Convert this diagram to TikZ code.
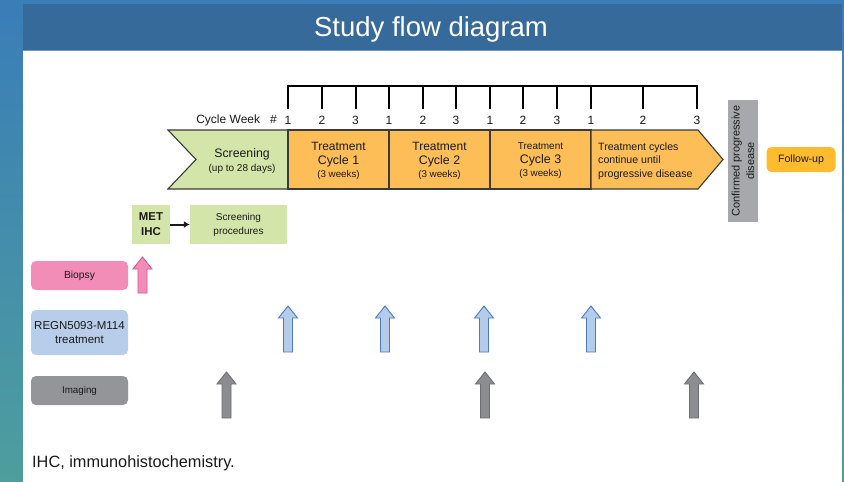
\documentclass[tikz,border=0pt]{standalone}
\usepackage{fontspec}
\setmainfont{Liberation Sans}
\usetikzlibrary{arrows.meta}
\definecolor{bgblue}{HTML}{3A7DB8}
\definecolor{bgteal}{HTML}{4E9E9E}
\definecolor{titlebar}{HTML}{366A9A}
\definecolor{scrgreen}{HTML}{D3E5A9}
\definecolor{trtorange}{HTML}{FDBE58}
\definecolor{fuorange}{HTML}{FDBB2D}
\definecolor{pdgray}{HTML}{A6A8AB}
\definecolor{pinkfill}{HTML}{F28DB8}
\definecolor{pinkline}{HTML}{D9558E}
\definecolor{bluebox}{HTML}{B7CDE9}
\definecolor{bluefill}{HTML}{B4CBEA}
\definecolor{blueline}{HTML}{4A7CC4}
\definecolor{imggray}{HTML}{939598}
\definecolor{arrgray}{HTML}{8C8D90}
\definecolor{arrgrayline}{HTML}{6D6E71}
\definecolor{outl}{HTML}{3A3A3A}
\definecolor{txt}{HTML}{1A1A1A}
\newcommand\fs[1]{\fontsize{#1pt}{\dimexpr #1pt*125/100\relax}\selectfont}
\newcommand\uparr[4]{%
  \draw[#4] (#1-4.5,#3) -- (#1-4.5,#2+12) -- (#1-9.5,#2+12) -- (#1,#2) --
    (#1+9.5,#2+12) -- (#1+4.5,#2+12) -- (#1+4.5,#3) -- cycle;}
\tikzset{
  lsk/.style={font=\fontsize{10pt}{#1}\selectfont},
  band/.style={draw=outl, line width=1.1pt, line join=miter},
  txtnode/.style={text=txt, inner sep=0pt, align=center, lsk=13.5pt},
  lab/.style={rounded corners=5pt, minimum width=97pt, inner sep=0pt, text=txt, align=center, lsk=14pt},
  tick/.style={line width=2pt, black},
  wk/.style={text=txt, inner sep=0pt, font=\fs{12}},
  bluearr/.style={fill=bluefill, draw=blueline, line width=0.9pt},
  grayarr/.style={fill=arrgray, draw=arrgrayline, line width=0.9pt},
  pinkarr/.style={fill=pinkfill, draw=pinkline, line width=0.9pt},
}
\begin{document}
\begin{tikzpicture}[x=1pt,y=-1pt]
\useasboundingbox (0,0) rectangle (844,482);
% background
\shade[top color=bgblue, bottom color=bgteal] (0,0) rectangle (844,482);
\fill[white] (23,50) rectangle (842,482);
\fill[titlebar] (23,4) rectangle (842,50);
\draw[color=titlebar!70!white, line width=0.8pt] (23,50) -- (842,50);
\node[text=white, inner sep=0pt] (title) at (431,29.5) {\fs{27.5}Study flow diagram};

% week ticks
\draw[tick] (288,109) -- (288,86) -- (697,86) -- (697,109);
\foreach \x in {322,355.5,389,423,456,490,523,557,591,643}
  \draw[tick] (\x,86) -- (\x,109);
\node[wk, anchor=east] (cw) at (277,120) {Cycle Week\ \ \ \#};
\foreach \x/\n [count=\i] in {288/1,322/2,355.5/3,389/1,423/2,456/3,490/1,523/2,557/3,591/1,643/2,697/3}
  \node[wk] (w\i) at (\x,120) {\n};

% band
\draw[band, fill=scrgreen] (168,130) -- (288,130) -- (288,189) -- (168,189) -- (196,159.5) -- cycle;
\draw[band, fill=trtorange] (288,130) rectangle (389,189);
\draw[band, fill=trtorange] (389,130) rectangle (490,189);
\draw[band, fill=trtorange] (490,130) rectangle (591,189);
\draw[band, fill=trtorange] (591,130) -- (698,130) -- (723,159.5) -- (698,189) -- (591,189) -- cycle;

\node[txtnode, lsk=14pt] (scr) at (242,161) {\fs{12.3}Screening\\\fs{10}(up to 28 days)};
\node[txtnode] (c1) at (338.5,161) {\fs{12}Treatment\\\fs{12.4}Cycle 1\\\fs{9.8}(3 weeks)};
\node[txtnode] (c2) at (439.5,161) {\fs{12}Treatment\\\fs{12.4}Cycle 2\\\fs{9.8}(3 weeks)};
\node[txtnode] (c3) at (540.5,161) {\fs{10}Treatment\\\fs{12.4}Cycle 3\\\fs{9.8}(3 weeks)};
\node[txtnode, align=left, anchor=west] (cont) at (598,161) {\fs{10.6}Treatment cycles\\\fs{10.6}continue until\\\fs{10.6}progressive disease};

% confirmed PD
\node[fill=pdgray, minimum width=122pt, minimum height=30pt, inner sep=0pt, rotate=90, align=center, text=txt, lsk=14.5pt] (pd) at (743,161)
  {\fs{11}Confirmed progressive\\\fs{11}disease};
\node[lab, fill=fuorange, minimum width=69pt, minimum height=25pt] (fu) at (801,159.5) {\fs{10.6}Follow-up};

% screening detail
\node[fill=scrgreen, minimum width=38pt, minimum height=39pt, inner sep=0pt, align=center, text=txt, lsk=15pt] (met) at (151,224.5)
  {\fs{11.4}\bfseries MET\\\fs{11.4}\bfseries IHC};
\node[fill=scrgreen, minimum width=97pt, minimum height=39pt, inner sep=0pt, align=center, text=txt, lsk=14pt] (sp) at (238.5,224.5)
  {\fs{10}Screening\\\fs{10}procedures};
\draw[-{Latex[length=6pt,width=7pt]}, line width=2pt, txt] (met.east) -- (sp.west);

% row labels
\node[lab, fill=pinkfill, minimum height=29pt] (biopsy) at (79.5,275.5) {\fs{10.3}Biopsy};
\node[lab, fill=bluebox, minimum height=45pt] (regn) at (79.5,332.5) {\fs{11.5}REGN5093-M114\\\fs{11.5}treatment};
\node[lab, fill=imggray, minimum height=29pt] (img) at (79.5,390.5) {\fs{9.8}Imaging};

% arrows
\uparr{142.5}{257}{293}{pinkarr}
\foreach \x in {288,385,484,591} { \uparr{\x}{306}{352}{bluearr} }
\foreach \x in {226.5,485,694} { \uparr{\x}{372}{418}{grayarr} }

% footnote
\node[anchor=west, inner sep=0pt, text=txt] (fn) at (32,463) {\fs{16.3}IHC, immunohistochemistry.};
\end{tikzpicture}
\end{document}
